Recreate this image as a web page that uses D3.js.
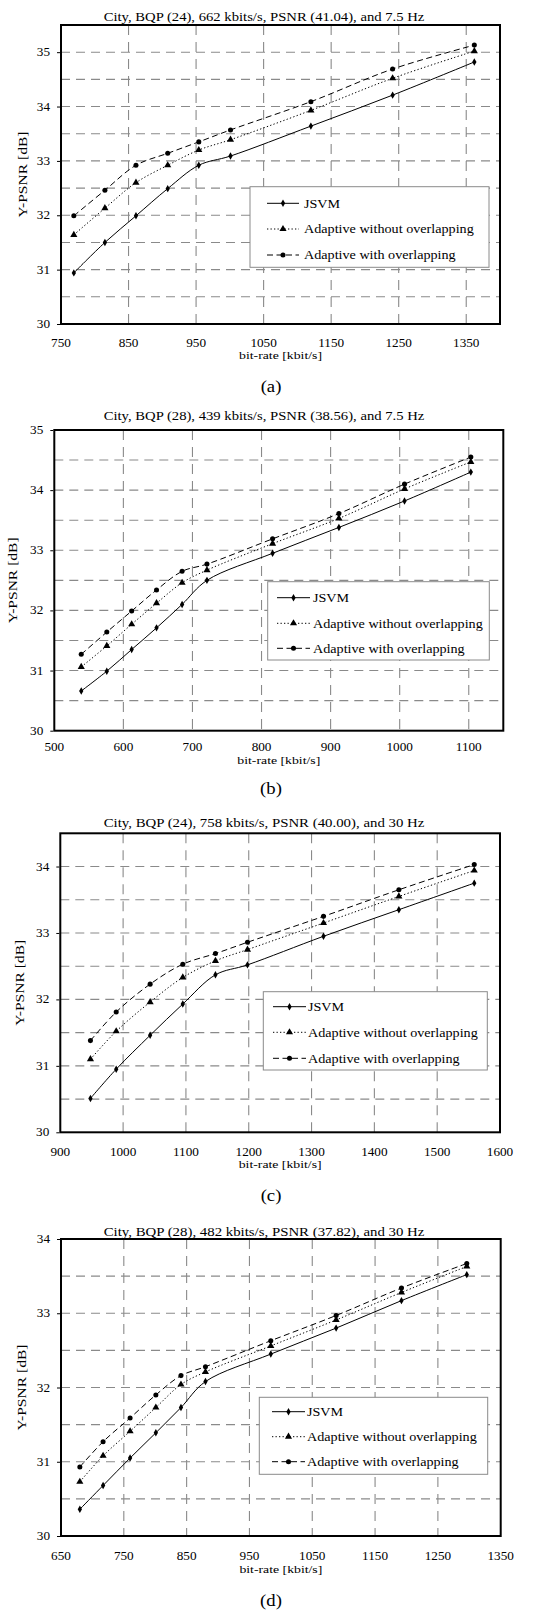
<!DOCTYPE html>
<html>
<head>
<meta charset="utf-8">
<script src="https://cdn.jsdelivr.net/npm/d3@7/dist/d3.min.js"></script>
<style>
  body { margin: 0; background: #fff; }
  svg { display: block; }
  text { font-family: "Liberation Serif", "Times New Roman", serif; fill: #000; }
</style>
</head>
<body>
<svg id="fig" width="551" height="1613"></svg>
<script>
// ---- Data: bit-rate [kbit/s] and Y-PSNR [dB] per configuration ----
const seriesNames = ["JSVM", "Adaptive without overlapping", "Adaptive with overlapping"];

// (a) City, BQP 24, 7.5 Hz
const rateA      = [769, 815, 861, 908, 954, 1001, 1120, 1241, 1362];
const jsvmA      = [30.94, 31.50, 31.99, 32.49, 32.92, 33.09, 33.64, 34.21, 34.82];
const noOverlapA = [31.64, 32.13, 32.60, 32.92, 33.20, 33.39, 33.93, 34.52, 35.02];
const overlapA   = [31.99, 32.46, 32.92, 33.14, 33.35, 33.57, 34.09, 34.69, 35.13];
const xTicksA = [750, 850, 950, 1050, 1150, 1250, 1350];
const yTicksA = [30, 31, 32, 33, 34, 35];

// (b) City, BQP 28, 7.5 Hz
const rateB      = [539, 576, 612, 648, 685, 721, 816, 912, 1007, 1103];
const jsvmB      = [30.66, 30.99, 31.35, 31.71, 32.10, 32.50, 32.95, 33.38, 33.82, 34.30];
const noOverlapB = [31.06, 31.41, 31.77, 32.12, 32.46, 32.67, 33.11, 33.53, 34.02, 34.47];
const overlapB   = [31.27, 31.64, 31.99, 32.34, 32.65, 32.77, 33.19, 33.61, 34.10, 34.55];
const xTicksB = [500, 600, 700, 800, 900, 1000, 1100];
const yTicksB = [30, 31, 32, 33, 34, 35];

// (c) City, BQP 24, 30 Hz
const rateC      = [948, 989, 1043, 1095, 1147, 1198, 1319, 1439, 1559];
const jsvmC      = [30.51, 30.95, 31.46, 31.93, 32.37, 32.52, 32.95, 33.35, 33.75];
const noOverlapC = [31.10, 31.52, 31.96, 32.33, 32.58, 32.75, 33.15, 33.55, 33.94];
const overlapC   = [31.38, 31.81, 32.23, 32.53, 32.69, 32.86, 33.25, 33.65, 34.03];
const xTicksC = [900, 1000, 1100, 1200, 1300, 1400, 1500, 1600];
const yTicksC = [30, 31, 32, 33, 34];

// (d) City, BQP 28, 30 Hz
const rateD      = [680, 717, 760, 801, 841, 880, 984, 1088, 1192, 1296];
const jsvmD      = [30.36, 30.68, 31.05, 31.39, 31.73, 32.08, 32.45, 32.80, 33.17, 33.52];
const noOverlapD = [30.73, 31.08, 31.41, 31.73, 32.04, 32.21, 32.56, 32.91, 33.28, 33.63];
const overlapD   = [30.93, 31.27, 31.59, 31.90, 32.16, 32.28, 32.63, 32.97, 33.34, 33.67];
const xTicksD = [650, 750, 850, 950, 1050, 1150, 1250, 1350];
const yTicksD = [30, 31, 32, 33, 34];

const titles = [
  "City, BQP (24), 662 kbits/s, PSNR (41.04), and 7.5 Hz",
  "City, BQP (28), 439 kbits/s, PSNR (38.56), and 7.5 Hz",
  "City, BQP (24), 758 kbits/s, PSNR (40.00), and 30 Hz",
  "City, BQP (28), 482 kbits/s, PSNR (37.82), and 30 Hz"
];
const captions = ["(a)", "(b)", "(c)", "(d)"];
const xAxisTitle = "bit-rate [kbit/s]";
const yAxisTitle = "Y-PSNR [dB]";

// ---- Layout of the four stacked panels ----
const panels = [
  { rates: rateA, series: [jsvmA, noOverlapA, overlapA], xDomain: [750, 1400], yDomain: [30, 35.5],
    xTicks: xTicksA, yTicks: yTicksA,
    box: { l: 61, r: 500, t: 25, b: 324 }, titleY: 20.5, captionY: 392, yLabelX: 23, tickDy: 22.5, labelDy: 35,
    legend: { x: 250, y: 186.7, w: 239, h: 80.6, rows: [16.6, 42.3, 68.3], s0: 267, s1: 299, tx: 304 } },
  { rates: rateB, series: [jsvmB, noOverlapB, overlapB], xDomain: [500, 1150], yDomain: [30, 35],
    xTicks: xTicksB, yTicks: yTicksB,
    box: { l: 54.3, r: 503.3, t: 430, b: 730.7 }, titleY: 419.5, captionY: 794, yLabelX: 12.5, tickDy: 20, labelDy: 33,
    legend: { x: 267.7, y: 581.7, w: 221.6, h: 78.3, rows: [16, 41.6, 66.6], s0: 277, s1: 310, tx: 313 } },
  { rates: rateC, series: [jsvmC, noOverlapC, overlapC], xDomain: [900, 1600], yDomain: [30, 34.5],
    xTicks: xTicksC, yTicks: yTicksC,
    box: { l: 60.3, r: 500, t: 833.3, b: 1132.3 }, titleY: 826.5, captionY: 1201, yLabelX: 20, tickDy: 23.5, labelDy: 36,
    legend: { x: 263.3, y: 991.7, w: 224, h: 78.3, rows: [15, 40.6, 66.6], s0: 273, s1: 306, tx: 308 } },
  { rates: rateD, series: [jsvmD, noOverlapD, overlapD], xDomain: [650, 1350], yDomain: [30, 34],
    xTicks: xTicksD, yTicks: yTicksD,
    box: { l: 61, r: 500.7, t: 1239, b: 1536 }, titleY: 1235.5, captionY: 1606, yLabelX: 22, tickDy: 24, labelDy: 36.5,
    legend: { x: 259.3, y: 1397.3, w: 228.4, h: 77, rows: [14.4, 39.4, 64.4], s0: 272, s1: 305, tx: 307 } }
];

// line and marker style for each series
const styles = [
  { dash: null,      symbol: d3.symbolDiamond,  size: 16 },
  { dash: "1.3,2.2", symbol: d3.symbolTriangle, size: 22 },
  { dash: "6,3.5",   symbol: d3.symbolCircle,   size: 20 }
];

const svg = d3.select("#fig");

// place text with a horizontal stretch so its width matches a target length
function stretchedText(g, str, x, y, size, anchor, targetWidth, fixedScale) {
  const holder = g.append("g");
  const t = holder.append("text")
    .attr("font-size", size)
    .attr("text-anchor", anchor)
    .text(str);
  let sx = fixedScale || 1;
  if (targetWidth) {
    const w = t.node().getComputedTextLength();
    if (w > 0) sx = targetWidth / w;
  }
  holder.attr("transform", `translate(${x},${y}) scale(${sx},1)`);
  return holder;
}

let legendScale = null;

panels.forEach((p, i) => {
  const g = svg.append("g");
  const B = p.box;
  const x = d3.scaleLinear().domain(p.xDomain).range([B.l, B.r]);
  const y = d3.scaleLinear().domain(p.yDomain).range([B.b, B.t]);

  // dashed grid: vertical at every tick, horizontal every 0.5 dB
  const vGrid = p.xTicks.filter(v => v > p.xDomain[0] && v < p.xDomain[1]);
  g.append("g").selectAll("line").data(vGrid).join("line")
    .attr("x1", d => x(d)).attr("x2", d => x(d))
    .attr("y1", B.t).attr("y2", B.b)
    .attr("stroke", "#8a8a8a").attr("stroke-width", 1.1)
    .attr("stroke-dasharray", "10,7");
  const hGrid = d3.range(p.yDomain[0] + 0.5, p.yDomain[1] - 0.01, 0.5);
  g.append("g").selectAll("line").data(hGrid).join("line")
    .attr("x1", B.l).attr("x2", B.r)
    .attr("y1", d => y(d)).attr("y2", d => y(d))
    .attr("stroke", "#8a8a8a").attr("stroke-width", 1.1)
    .attr("stroke-dasharray", "9,6");

  // series curves and markers
  const line = d3.line()
    .x((d, k) => x(p.rates[k]))
    .y(d => y(d))
    .curve(d3.curveCatmullRom.alpha(0.5));

  p.series.forEach((vals, s) => {
    const st = styles[s];
    g.append("path")
      .attr("d", line(vals))
      .attr("fill", "none")
      .attr("stroke", "#000")
      .attr("stroke-width", 1)
      .attr("stroke-dasharray", st.dash);
    g.append("g").selectAll("path").data(vals).join("path")
      .attr("transform", (d, k) => `translate(${x(p.rates[k])},${y(d)})`)
      .attr("d", d3.symbol().type(st.symbol).size(st.size))
      .attr("fill", "#000");
  });

  // legend
  const L = p.legend;
  const lg = g.append("g");
  lg.append("rect")
    .attr("x", L.x).attr("y", L.y).attr("width", L.w).attr("height", L.h)
    .attr("fill", "#fff").attr("stroke", "#8a8a8a").attr("stroke-width", 1);
  seriesNames.forEach((name, s) => {
    const st = styles[s];
    const ry = L.y + L.rows[s];
    lg.append("line")
      .attr("x1", L.s0).attr("x2", L.s1).attr("y1", ry).attr("y2", ry)
      .attr("stroke", "#000").attr("stroke-width", 1)
      .attr("stroke-dasharray", st.dash);
    lg.append("path")
      .attr("transform", `translate(${(L.s0 + L.s1) / 2},${ry})`)
      .attr("d", d3.symbol().type(st.symbol).size(st.size))
      .attr("fill", "#000");
    if (legendScale === null) {
      const probe = svg.append("text").attr("font-size", 12).text(seriesNames[1]);
      legendScale = 170 / probe.node().getComputedTextLength();
      probe.remove();
    }
    stretchedText(lg, name, L.tx, ry + 4.3, 12, "start", null, legendScale);
  });

  // frame
  g.append("rect")
    .attr("x", B.l).attr("y", B.t).attr("width", B.r - B.l).attr("height", B.b - B.t)
    .attr("fill", "none").attr("stroke", "#000").attr("stroke-width", 2);

  // y axis: short outward ticks and labels
  const yAxis = d3.axisLeft(y).tickValues(p.yTicks).tickSize(3).tickFormat(d3.format("d"));
  const ya = g.append("g").attr("transform", `translate(${B.l - 1},0)`).call(yAxis);
  ya.select(".domain").remove();
  ya.selectAll(".tick line").attr("stroke", "#000");
  ya.selectAll(".tick text").remove();
  p.yTicks.forEach(v => {
    stretchedText(g, String(v), B.l - 11, y(v) + 4, 11.5, "end", null, 1.15);
  });

  // x axis labels
  const xa = g.append("g").attr("transform", `translate(0,${B.b})`)
    .call(d3.axisBottom(x).tickValues(p.xTicks).tickSize(0));
  xa.select(".domain").remove();
  xa.selectAll(".tick text").remove();
  p.xTicks.forEach(v => {
    stretchedText(g, String(v), x(v), B.b + p.tickDy, 11.5, "middle", null, 1.15);
  });

  // axis titles
  stretchedText(g, xAxisTitle, (B.l + B.r) / 2, B.b + p.labelDy, 10.5, "middle", 83);
  const yl = g.append("g")
    .attr("transform", `translate(${p.yLabelX + 4},${(B.t + B.b) / 2}) rotate(-90)`);
  yl.append("text").attr("font-size", 12).attr("text-anchor", "middle").text(yAxisTitle)
    .attr("textLength", 86).attr("lengthAdjust", "spacingAndGlyphs");

  // chart title and panel caption
  stretchedText(g, titles[i], 264, p.titleY, 11.5, "middle", 321);
  stretchedText(g, captions[i], 271, p.captionY, 17, "middle", null, 1.1);
});
</script>
</body>
</html>
